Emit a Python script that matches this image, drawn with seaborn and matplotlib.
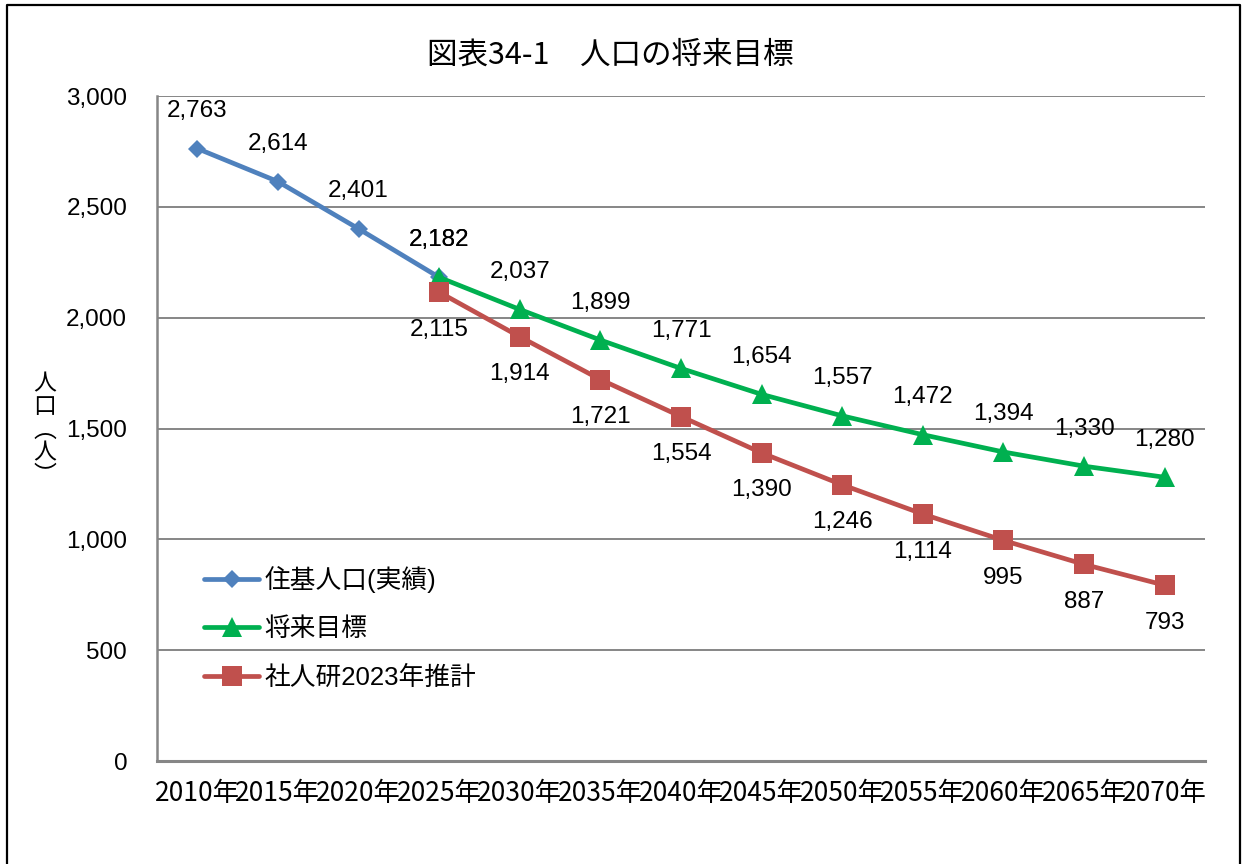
import matplotlib
matplotlib.use("Agg")
import matplotlib.pyplot as plt
from matplotlib.lines import Line2D
import seaborn as sns
import pandas as pd

# Category axis
years = [2010, 2015, 2020, 2025, 2030, 2035, 2040, 2045, 2050, 2055, 2060, 2065, 2070]
year_labels = [f"{y}年" for y in years]

# Series
actual_years = [2010, 2015, 2020, 2025]
actual_vals = [2763, 2614, 2401, 2182]

target_years = [2025, 2030, 2035, 2040, 2045, 2050, 2055, 2060, 2065, 2070]
target_vals = [2182, 2037, 1899, 1771, 1654, 1557, 1472, 1394, 1330, 1280]

ipss_years = [2025, 2030, 2035, 2040, 2045, 2050, 2055, 2060, 2065, 2070]
ipss_vals = [2115, 1914, 1721, 1554, 1390, 1246, 1114, 995, 887, 793]

series_names = ["住基人口(実績)", "将来目標", "社人研2023年推計"]
y_ticks = [0, 500, 1000, 1500, 2000, 2500, 3000]

sns.set_theme(style="white")
plt.rcParams["font.family"] = ["Noto Sans CJK JP", "DejaVu Sans"]
plt.rcParams["text.color"] = "black"
plt.rcParams["xtick.color"] = "black"
plt.rcParams["ytick.color"] = "black"
plt.rcParams["xtick.labelcolor"] = "black"
plt.rcParams["ytick.labelcolor"] = "black"

NUM_FONT = ["Liberation Sans", "Noto Sans CJK JP"]
NARROW_FONT = ["Liberation Sans Narrow", "Noto Sans CJK JP"]

fig = plt.figure(figsize=(12.44, 8.64), dpi=100)
ax = fig.add_axes([157 / 1244, 1 - 761 / 864, 1048 / 1244, 665 / 864])

styles = {
    series_names[0]: dict(color="#4F81BD", marker="D", ms=8.7, label_pos="above"),
    series_names[1]: dict(color="#00B050", marker="^", ms=14.4, label_pos="above"),
    series_names[2]: dict(color="#C0504D", marker="s", ms=14.2, label_pos="below"),
}

frames = []
for name, ys, vs in zip(series_names,
                        [actual_years, target_years, ipss_years],
                        [actual_vals, target_vals, ipss_vals]):
    frames.append(pd.DataFrame({
        "pos": [years.index(y) for y in ys],
        "value": vs,
        "series": name,
    }))
df = pd.concat(frames, ignore_index=True)

handles = []
for name in series_names:
    st = styles[name]
    sub = df[df["series"] == name]
    sns.lineplot(data=sub, x="pos", y="value", ax=ax, color=st["color"],
                 linewidth=3.4, marker=st["marker"], markersize=st["ms"],
                 markeredgewidth=0, legend=False, zorder=3)
    for p, v in zip(sub["pos"], sub["value"]):
        dy = 27 if st["label_pos"] == "above" else -27
        ax.annotate(f"{v:,}", (p, v), xytext=(0, dy), textcoords="offset points",
                    ha="center", va="center", fontsize=17.5, color="black",
                    family=NUM_FONT, zorder=5)
    handles.append(Line2D([], [], color=st["color"], linewidth=3.4,
                          marker=st["marker"], markersize=st["ms"],
                          markeredgewidth=0, label=name))

ax.set_xlim(-0.5, len(years) - 0.5)
ax.set_ylim(0, 3000)
ax.set_xticks(range(len(years)))
ax.set_xticklabels(year_labels, fontsize=19, family=NARROW_FONT, color="black")
ax.set_yticks(y_ticks)
ax.set_yticklabels([f"{t:,}" for t in y_ticks], fontsize=17.5, family=NUM_FONT,
                   color="black")
ax.tick_params(axis="x", length=0, pad=14)
ax.tick_params(axis="y", length=0, pad=21.5)
ax.set_xlabel("")
ax.set_ylabel("")

ax.grid(axis="y", color="#868686", linewidth=1.4)
ax.set_axisbelow(True)
for side in ["top", "right"]:
    ax.spines[side].set_visible(False)
ax.spines["left"].set_color("#868686")
ax.spines["left"].set_linewidth(1.8)
ax.spines["bottom"].set_color("#868686")
ax.spines["bottom"].set_linewidth(2.2)

leg = ax.legend(handles=handles, loc="center left", bbox_to_anchor=(0.035, 0.2),
                frameon=False, fontsize=18.5, handlelength=2.15, handletextpad=0.2,
                labelspacing=0.95, borderaxespad=0)
for t in leg.get_texts():
    t.set_family(NUM_FONT)
    t.set_color("black")

fig.text(610 / 1244, 1 - 55 / 864, "図表34-1　人口の将来目標", ha="center",
         va="center", fontsize=22, family=NARROW_FONT, color="black")
fig.text(45 / 1244, 1 - 430 / 864, "人\n口\n︵\n人\n︶", ha="center",
         va="center", fontsize=16.5, linespacing=1.0, color="black")

# Frame around the figure (left, top, right edges)
fig.add_artist(Line2D([7 / 1244, 7 / 1244, 1240 / 1244, 1240 / 1244],
                      [0, 1 - 5 / 864, 1 - 5 / 864, 0],
                      transform=fig.transFigure, color="black", linewidth=1.6))

fig.savefig("out.png", dpi=100)
